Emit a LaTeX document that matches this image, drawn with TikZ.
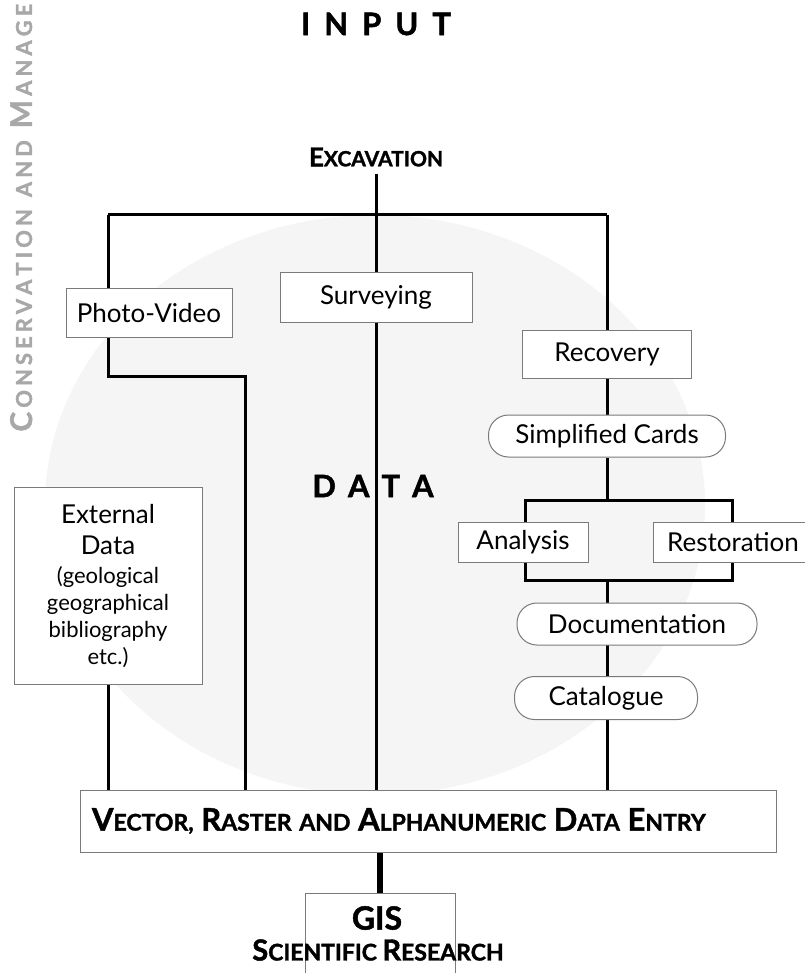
\documentclass[tikz,border=0pt]{standalone}
\usepackage{fontspec}
\setmainfont{Lato}[BoldFeatures={FakeBold=1.5}]
\usetikzlibrary{backgrounds}
\definecolor{boxline}{HTML}{7A7A7A}
\definecolor{dotgrey}{HTML}{F5F5F5}
\definecolor{sidegrey}{HTML}{A8A8A8}
\newcommand{\fakesc}[3]{{\fontsize{#1}{#1}\selectfont #2}#3}
\newcommand{\subtext}[1]{{\fontsize{11}{12}\selectfont #1}}
\def\spreadout#1{\ifx#1\relax\else#1\hspace{2pt}\expandafter\spreadout\fi}

\begin{document}
\begin{tikzpicture}[
    x=0.5pt, y=-0.5pt,
    every node/.style={font=\fontsize{13}{15.5}\selectfont},
    box/.style={draw=boxline, line width=0.5pt, fill=white, inner sep=0pt},
    pill/.style={box, rounded corners=10pt},
    head/.style={font=\fontsize{15.5}{18}\selectfont\bfseries, inner sep=1pt},
    caps/.style={font=\fontsize{10.5}{12}\selectfont\bfseries},
    side/.style={font=\fontsize{11}{12}\selectfont\bfseries, text=sidegrey, inner sep=0pt},
    link/.style={line width=1.5pt},
    biglink/.style={line width=2.6pt}
]
\useasboundingbox (0,0) rectangle (804,973);

% titles
\node[head] (input) at (376,24) {I\hspace{7pt}N\hspace{7pt}P\hspace{7pt}U\hspace{7pt}T};
\node[caps] (exc) at (376,157) {\fakesc{13}{E}{XCAVATION}};
\node[head] (data) at (373,486) {D\hspace{6pt}A\hspace{6pt}T\hspace{6pt}A};
\node[side, rotate=90, anchor=base west] (series) at (32,432)
    {\fakesc{15}{\spreadout C\relax}{\spreadout ONSERVATION\relax}\hspace{4pt}%
     \spreadout AND\relax\hspace{4pt}\fakesc{15}{\spreadout M\relax}{\spreadout ANAGE\relax}};

% input boxes
\node[box, minimum width=83pt, minimum height=24.5pt] (photo) at (149,313) {Photo-Video};
\node[box, minimum width=96pt, minimum height=25pt] (surv) at (376,297) {Surveying};
\node[box, minimum width=84.5pt, minimum height=24pt] (rec) at (607,354) {Recovery};
\node[pill, minimum width=118.5pt, minimum height=21pt] (simp) at (607,436) {Simplified Cards};
\node[box, minimum width=65pt, minimum height=20pt] (ana) at (523,542) {Analysis};
\node[box, minimum width=80pt, minimum height=20pt] (rest) at (733,542) {Restoration};
\node[pill, minimum width=120pt, minimum height=21pt] (doc) at (637,624) {Documentation};
\node[pill, minimum width=91.5pt, minimum height=21.5pt] (cat) at (606,698) {Catalogue};
\node[box, minimum width=94pt, minimum height=98.5pt, align=center] (ext) at (108,586)
    {External\\Data\\[-1pt]\subtext{(geological}\\[-2pt]\subtext{geographical}\\[-2pt]%
     \subtext{bibliography}\\[-2pt]\subtext{etc.)}};

% data entry and output
\node[box, minimum width=348pt, minimum height=31pt, text width=336pt, align=left,
      font=\fontsize{11.5}{14}\selectfont\bfseries] (bar) at (428,821)
    {\fakesc{15.5}{V}{ECTOR}, \fakesc{15.5}{R}{ASTER} AND \fakesc{15.5}{A}{LPHANUMERIC}
     \fakesc{15.5}{D}{ATA} \fakesc{15.5}{E}{NTRY}};
\node[box, fill=none, minimum width=75pt, minimum height=50pt, anchor=north] (gis) at (380,893) {};
\node[font=\fontsize{16}{18}\selectfont\bfseries] (gisname) at (377,918) {GIS};
\node[font=\fontsize{11.5}{13}\selectfont\bfseries] (sci) at (378,950)
    {\fakesc{14.5}{S}{CIENTIFIC} \fakesc{14.5}{R}{ESEARCH}};

\coordinate (tl) at (108,215);
\coordinate (tr) at (607,215);
\coordinate (pvbend) at (108,376);
\coordinate (pvturn) at (245,376);
\coordinate (splitl) at (525,500);
\coordinate (splitr) at (732,500);
\coordinate (joinl) at (525,580);
\coordinate (joinr) at (732,580);
\coordinate (joinm) at (607,580);

\begin{scope}[on background layer]
\fill[dotgrey] (375,505) ellipse [x radius=165pt, y radius=145pt];
% excavation trunk
\draw[link] (exc.south) -- (exc.south |- bar.north);
\draw[link] (tl) -- (tr);
% left branches
\draw[link] (tl) -- (tl |- photo.north);
\draw[link] (tl |- photo.south) -- (pvbend) -- (pvturn) -- (pvturn |- bar.north);
\draw[link] (ext.south) -- (ext.south |- bar.north);
% right branch
\draw[link] (tr) -- (rec.north);
\draw[link] (rec.south) -- (simp.north);
\draw[link] (simp.south) -- (simp.south |- splitl);
\draw[link] (splitl |- ana.north) -- (splitl) -- (splitr) -- (splitr |- rest.north);
\draw[link] (splitl |- ana.south) -- (joinl) -- (joinr) -- (splitr |- rest.south);
\draw[link] (joinm) -- (joinm |- bar.north);
% to GIS
\draw[biglink] (bar.south -| gis.north) -- (gis.north);
\end{scope}
\end{tikzpicture}
\end{document}
